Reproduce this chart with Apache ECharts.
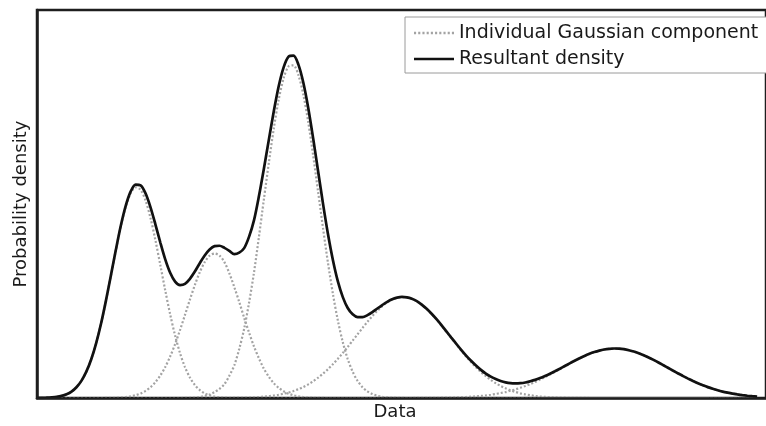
<!DOCTYPE html>
<html>
<head>
<meta charset="utf-8">
<script src="https://cdn.jsdelivr.net/npm/echarts@6/dist/echarts.min.js"></script>
<style>
  html, body { margin: 0; padding: 0; background: #fff; }
  #chart { width: 766px; height: 426px; }
</style>
</head>
<body>
<div id="chart"></div>
<script>
// x positions along the "Data" axis (arbitrary units)
const xs = [
  0,5,10,15,20,25,30,35,40,45, 50,55,60,65,70,75,80,85,90,95,
  100,105,110,115,120,125,130,135,140,145, 150,155,160,165,170,175,180,185,190,195,
  200,205,210,215,220,225,230,235,240,245, 250,255,260,265,270,275,280,285,290,295,
  300,305,310,315,320,325,330,335,340,345, 350,355,360,365,370,375,380,385,390,395,
  400,405,410,415,420,425,430,435,440,445, 450,455,460,465,470,475,480,485,490,495,
  500,505,510,515,520,525,530,535,540,545, 550,555,560,565,570,575,580,585,590,595,
  600,605,610,615,620,625,630,635,640,645, 650,655,660,665,670,675,680,685,690,695,
  700,705,710,715,720,725,730
];

// Individual Gaussian components (density, arbitrary units)
const comp1 = [
  0.1,0.1,0.3,0.6,1.1,2.1,3.8,6.5,10.9,17.3,
  26.6,39.2,55.5,75.5,98.8,124.0,149.7,173.6,193.3,207.0,
  212.8,210.3,199.6,182.1,159.6,134.4,108.7,84.5,63.1,45.3,
  31.2,20.7,13.1,8.0,4.7,2.7,1.4,0.8,0.4,0.2,
  0.1,0,0,0,0,0,0,0,0,0,
  0,0,0,0,0,0,0,0,0,0, 0,0,0,0,0,0,0,0,0,0,
  0,0,0,0,0,0,0,0,0,0, 0,0,0,0,0,0,0,0,0,0,
  0,0,0,0,0,0,0,0,0,0, 0,0,0,0,0,0,0,0,0,0,
  0,0,0,0,0,0,0,0,0,0, 0,0,0,0,0,0,0,0,0,0,
  0,0,0,0,0,0,0
];
const comp2 = [
  0,0,0,0,0,0,0,0,0,0,
  0,0,0,0,0.1,0.2,0.3,0.6,1.0,1.7,
  2.8,4.6,7.2,10.8,15.9,22.7,31.3,42.0,54.5,68.7,
  83.9,99.4,114.1,127.1,137.3,143.8,146,143.8,137.3,126,
  112,97,81,66,52,40,29.5,21.5,15.0,10.3,
  6.8,4.4,2.7,1.7,1.0,0.5,0.3,0.2,0.1,0,
  0,0,0,0,0,0,0,0,0,0, 0,0,0,0,0,0,0,0,0,0,
  0,0,0,0,0,0,0,0,0,0, 0,0,0,0,0,0,0,0,0,0,
  0,0,0,0,0,0,0,0,0,0, 0,0,0,0,0,0,0,0,0,0,
  0,0,0,0,0,0,0,0,0,0, 0,0,0,0,0,0,0,0,0,0,
  0,0,0,0,0,0,0
];
const comp3 = [
  0,0,0,0,0,0,0,0,0,0, 0,0,0,0,0,0,0,0,0,0, 0,0,0,0,0,0,0,0,0,0,
  0.2,0.3,0.6,1.1,2.0,3.5,6.0,9.2,14.0,22.5,
  33,49.5,70,96.5,127,163,200.7,237.5,272.0,301.4,
  323.0,335.0,336.1,326.2,306.4,278.4,244.7,208.1,171.2,136.3,
  105.0,78.2,56.4,39.3,26.5,17.3,10.9,6.7,4.0,2.3,
  1.3,0.7,0.4,0.2,0.1,0,0,0,0,0,
  0,0,0,0,0,0,0,0,0,0, 0,0,0,0,0,0,0,0,0,0,
  0,0,0,0,0,0,0,0,0,0, 0,0,0,0,0,0,0,0,0,0,
  0,0,0,0,0,0,0,0,0,0, 0,0,0,0,0,0,0,0,0,0,
  0,0,0,0,0,0,0
];
const comp4 = [
  0,0,0,0,0,0,0,0,0,0, 0,0,0,0,0,0,0,0,0,0,
  0,0,0,0,0,0,0,0,0,0, 0,0,0,0,0,0,0,0,0,0,
  0.2,0.3,0.4,0.5,0.7,1.0,1.4,1.8,2.5,3.3,
  4.3,5.5,7.0,8.9,11.1,13.8,16.9,20.5,24.6,29.1,
  34.2,39.6,45.5,51.6,58.0,64.4,70.8,77.0,82.8,88.1,
  92.7,96.5,99.4,101.2,102.0,101.6,100.2,97.8,94.3,90.0,
  85.0,79.4,73.3,67.0,60.6,54.2,47.9,41.9,36.3,31.1,
  26.3,22.1,18.3,15.0,12.2,9.8,7.7,6.1,4.7,3.6,
  2.8,2.1,1.5,1.1,0.8,0.6,0.4,0.3,0.2,0.1,
  0.1,0.1,0,0,0,0,0,0,0,0,
  0,0,0,0,0,0,0,0,0,0, 0,0,0,0,0,0,0,0,0,0,
  0,0,0,0,0,0,0
];
const comp5 = [
  0,0,0,0,0,0,0,0,0,0, 0,0,0,0,0,0,0,0,0,0,
  0,0,0,0,0,0,0,0,0,0, 0,0,0,0,0,0,0,0,0,0,
  0,0,0,0,0,0,0,0,0,0, 0,0,0,0,0,0,0,0,0,0,
  0,0,0,0,0,0,0,0,0,0,
  0,0,0,0,0,0,0,0.1,0.1,0.1,
  0.1,0.2,0.3,0.3,0.4,0.6,0.8,1.0,1.3,1.7,
  2.1,2.6,3.3,4.1,5.0,6.0,7.3,8.7,10.3,12.1,
  14.1,16.2,18.6,21.1,23.7,26.4,29.2,32.0,34.8,37.5,
  40.0,42.4,44.5,46.4,47.9,49.0,49.7,50.0,49.9,49.3,
  48.3,47.0,45.3,43.3,41.0,38.5,35.9,33.1,30.3,27.5,
  24.8,22.1,19.6,17.2,14.9,12.9,11.0,9.3,7.8,6.5,
  5.4,4.4,3.6,2.9,2.3,1.8,1.4
];

// Resultant density
const resultant = [
  0.1,0.1,0.3,0.6,1.1,2.1,3.8,6.5,10.9,17.3,
  26.6,39.2,55.5,75.5,98.9,124.2,150.0,174.2,194.3,208.7,
  215.6,214.9,206.8,192.9,175.5,157.1,140.0,126.5,117.6,114.1,
  115.3,120.4,127.8,136.2,144.0,150.0,153.4,153.8,151.7,148.7,
  145.3,146.8,151.4,163.0,179.7,204.0,231.6,260.8,289.5,315.0,
  334.1,344.9,345.9,336.8,318.5,292.8,261.9,228.8,195.9,165.4,
  139.2,117.8,101.9,90.9,84.5,81.7,81.7,83.7,86.8,90.4,
  93.9,97.2,99.8,101.4,102.1,101.6,100.2,97.9,94.4,90.1,
  85.1,79.6,73.6,67.3,61.0,54.8,48.7,42.9,37.6,32.8,
  28.4,24.7,21.6,19.1,17.2,15.8,15.0,14.8,15.0,15.7,
  16.9,18.3,20.1,22.2,24.5,27.0,29.6,32.3,35.0,37.6,
  40.1,42.5,44.6,46.4,47.9,49.0,49.7,50.0,49.9,49.3,
  48.3,47.0,45.3,43.3,41.0,38.5,35.9,33.1,30.3,27.5,
  24.8,22.1,19.6,17.2,14.9,12.9,11.0,9.3,7.8,6.5,
  5.4,4.4,3.6,2.9,2.3,1.8,1.4
];

const seriesNames = ['Individual Gaussian component', 'Resultant density'];
const axisNames = { x: 'Data', y: 'Probability density' };

const pairs = arr => xs.map((x, i) => [x, arr[i]]);

const FONT = 'DejaVu Sans';
const AXIS_COLOR = '#1e1e1e';
const COMP_COLOR = '#a3a3a3';
const compStyle = { color: COMP_COLOR, width: 2.2, type: [2, 2], cap: 'butt' };

// legend sample icons: a dotted stroke and a solid stroke
const dottedIcon = 'path://M0,0h2v2h-2z M4,0h2v2h-2z M8,0h2v2h-2z M12,0h2v2h-2z M16,0h2v2h-2z M20,0h2v2h-2z M24,0h2v2h-2z M28,0h2v2h-2z M32,0h2v2h-2z M36,0h2v2h-2z';
const solidIcon = 'path://M0,0h40v2h-40z';

function compSeries(arr, showInLegend) {
  return {
    name: showInLegend ? seriesNames[0] : seriesNames[0] + ' ',
    type: 'line',
    data: pairs(arr),
    smooth: 0.3,
    showSymbol: false,
    symbol: 'none',
    silent: true,
    z: 2,
    lineStyle: compStyle,
    itemStyle: { color: COMP_COLOR }
  };
}

const chart = echarts.init(document.getElementById('chart'), null, { renderer: 'canvas' });
chart.setOption({
  animation: false,
  backgroundColor: '#ffffff',
  grid: {
    left: 37, top: 10, right: -10, bottom: 24,
    show: true, borderColor: AXIS_COLOR, borderWidth: 2.5, backgroundColor: 'transparent'
  },
  legend: {
    data: [
      { name: seriesNames[0], icon: dottedIcon },
      { name: seriesNames[1], icon: solidIcon }
    ],
    orient: 'vertical',
    left: 405, top: 17,
    padding: [6, 40, 4, 9],
    itemWidth: 40, itemHeight: 2.5, itemGap: 6,
    symbolKeepAspect: false,
    borderColor: '#9a9a9a', borderWidth: 1, borderRadius: 0,
    backgroundColor: '#fff',
    textStyle: { fontFamily: FONT, fontSize: 19, color: '#1a1a1a', lineHeight: 20 },
    selectedMode: false
  },
  xAxis: {
    type: 'value', min: 0, max: 739, z: 10,
    name: axisNames.x, nameLocation: 'middle', nameGap: 5,
    nameTextStyle: { fontFamily: FONT, fontSize: 18, color: '#1a1a1a', padding: [0, 13, 0, 0] },
    axisLine: { show: true, onZero: false, lineStyle: { color: AXIS_COLOR, width: 2.5 } },
    axisTick: { show: false }, axisLabel: { show: false },
    splitLine: { show: false }
  },
  yAxis: {
    type: 'value', min: 0, max: 392, z: 10,
    name: axisNames.y, nameLocation: 'middle', nameGap: 7,
    nameTextStyle: { fontFamily: FONT, fontSize: 18, color: '#1a1a1a' },
    axisLine: { show: true, lineStyle: { color: AXIS_COLOR, width: 2.5 } },
    axisTick: { show: false }, axisLabel: { show: false },
    splitLine: { show: false }
  },
  series: [
    compSeries(comp1, true),
    compSeries(comp2, false),
    compSeries(comp3, false),
    compSeries(comp4, false),
    compSeries(comp5, false),
    {
      name: seriesNames[1],
      type: 'line',
      data: pairs(resultant),
      smooth: 0.3,
      showSymbol: false,
      symbol: 'none',
      silent: true,
      z: 3,
      lineStyle: { color: '#111', width: 2.7 },
      itemStyle: { color: '#111' }
    }
  ]
});
</script>
</body>
</html>
